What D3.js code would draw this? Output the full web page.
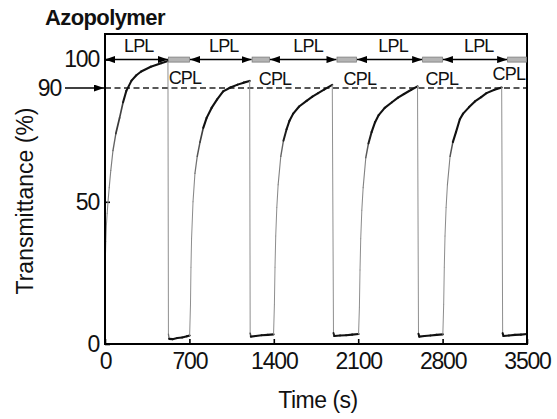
<!DOCTYPE html>
<html><head><meta charset="utf-8">
<script src="https://cdn.jsdelivr.net/npm/d3@7"></script>
<style>
html,body{margin:0;padding:0;background:#fff;}
svg{display:block;font-family:"Liberation Sans",Arial,sans-serif;}
</style></head><body>
<svg id="chart" width="557" height="419"></svg>
<script>
// Transmittance trace under alternating LPL / CPL illumination
const timeS = [
  0,3,7,12,18,25,35,48,66,90,121,150,177,220,260,300,380,465,522,
  526,532,560,600,640,680,702,
  709,713,718,730,746,765,788,815,843,884,930,980,1040,1100,1150,1200,
  1204,1210,1250,1300,1350,1398,
  1405,1410,1416,1425,1436,1458,1480,1506,1530,1561,1610,1672,1720,1768,1820,1885,
  1895,1902,1950,2000,2050,2103,
  2110,2115,2121,2130,2141,2163,2185,2211,2240,2270,2320,2380,2430,2480,2540,2592,
  2600,2607,2650,2700,2750,2802,
  2809,2814,2820,2829,2840,2862,2885,2911,2943,2970,3020,3068,3120,3164,3230,3290,
  3298,3305,3350,3400,3450,3500
];
const transmittance = [
  25,30,36,42,46,50,55,61,68,74,79.5,85,89,92.6,94.5,95.8,97.5,98.7,99.5,
  3.5,1.8,1.7,2.1,2.3,2.7,3.0,
  14,27,37,50,60,66,71,76,79.5,83,86,88.8,90.2,91.2,91.9,92.5,
  3.8,2.6,2.8,3.1,3.2,3.4,
  14,27,38,48,56,66,71.5,75.5,78.5,81,83.5,85.5,87,88.2,89.5,91.1,
  3.9,2.8,3.0,3.1,3.3,3.5,
  13,26,37,47,55,65.5,70.5,74.5,78,80.5,83,85,86.6,87.9,89.4,90.6,
  3.6,2.6,2.8,3.0,3.2,3.4,
  14,27,38,48,56,66,71,74.5,79,81,83.3,85.3,86.8,88.2,89.4,90.2,
  3.8,2.8,3.0,3.2,3.3,3.5
];
const xTicks = [0, 700, 1400, 2100, 2800, 3500];
const yTicks = [0, 50, 100];
const refLevel = 90;
const cplStart = [522, 1216, 1920, 2630, 3335];
const cplEnd   = [705, 1368, 2090, 2803, 3500];
const lplLabelTimes = [280, 985, 1685, 2390, 3100];
const cplLabelTimes = [663, 1410, 2114, 2794, 3350];
const cplLabelLevels = [91.5, 91.0, 91.0, 91.0, 92.8];

const svg = d3.select('#chart');
const x = d3.scaleLinear().domain([0, 3500]).range([105, 527]);
const y = d3.scaleLinear().domain([0, 109]).range([344, 34]);

// arrowhead marker
const defs = svg.append('defs');
defs.append('marker')
  .attr('id', 'head').attr('viewBox', '0 0 10 7')
  .attr('refX', 10).attr('refY', 3.5)
  .attr('markerWidth', 10).attr('markerHeight', 7)
  .attr('markerUnits', 'userSpaceOnUse')
  .attr('orient', 'auto-start-reverse')
  .append('path').attr('d', 'M0,0L10,3.5L0,7Z').attr('fill', '#000');

// axes with inward ticks
const xAxis = svg.append('g').attr('transform', `translate(0,${y(0)})`)
  .call(d3.axisBottom(x).tickValues(xTicks).tickFormat(d3.format('d'))
    .tickSizeInner(-5).tickSizeOuter(0).tickPadding(9));
const yAxis = svg.append('g').attr('transform', `translate(${x(0)},0)`)
  .call(d3.axisLeft(y).tickValues(yTicks).tickFormat(d3.format('d'))
    .tickSizeInner(-5).tickSizeOuter(0).tickPadding(6));
[xAxis, yAxis].forEach(g => {
  g.select('.domain').remove();
  g.attr('font-family', null).attr('font-size', null);
  g.selectAll('line').attr('stroke', '#000').attr('stroke-width', 1.6);
  g.selectAll('text').attr('font-size', 23).attr('letter-spacing', -1.2).attr('fill', '#111');
});

// reference level: dashed line and pointer arrow
svg.append('line')
  .attr('x1', x(0)).attr('x2', x(3500)).attr('y1', y(refLevel)).attr('y2', y(refLevel))
  .attr('stroke', '#222').attr('stroke-width', 1.6).attr('stroke-dasharray', '6,3.5');
svg.append('line')
  .attr('x1', x(0) - 40).attr('x2', x(0) - 1).attr('y1', y(refLevel)).attr('y2', y(refLevel))
  .attr('stroke', '#000').attr('stroke-width', 1.6).attr('marker-end', 'url(#head)');
svg.append('text').attr('x', x(0) - 44).attr('y', y(refLevel)).attr('dy', '0.34em')
  .attr('text-anchor', 'end').attr('font-size', 23).attr('letter-spacing', -1.2)
  .attr('fill', '#111').text(refLevel);

// trace: segments shaded by steepness
const pts = timeS.map((t, i) => [x(t), y(transmittance[i])]);
const ink = d3.interpolateRgb('#8f8f8f', '#111');
const gTrace = svg.append('g').attr('stroke-linecap', 'round');
for (let i = 1; i < pts.length; i++) {
  const [x0, y0] = pts[i - 1], [x1, y1] = pts[i];
  const s = Math.abs(y1 - y0) / Math.hypot(x1 - x0, y1 - y0);
  const k = Math.max(0, Math.min(1, (1 - s) / 0.04));
  gTrace.append('line')
    .attr('x1', x0).attr('y1', y0).attr('x2', x1).attr('y2', y1)
    .attr('stroke', ink(k)).attr('stroke-width', 1 + 1.1 * k);
}

// plot frame
svg.append('rect')
  .attr('x', x(0)).attr('y', y(109)).attr('width', x(3500) - x(0)).attr('height', y(0) - y(109))
  .attr('fill', 'none').attr('stroke', '#000').attr('stroke-width', 2);

// illumination sequence along the 100 % level
const gSeq = svg.append('g');
cplStart.forEach((s, i) => {
  const from = i === 0 ? 0 : cplEnd[i - 1];
  gSeq.append('line')
    .attr('x1', x(from)).attr('x2', x(s)).attr('y1', y(100)).attr('y2', y(100))
    .attr('stroke', '#000').attr('stroke-width', 1.5)
    .attr('marker-start', 'url(#head)').attr('marker-end', 'url(#head)');
  gSeq.append('rect')
    .attr('x', x(s) + 0.5).attr('y', y(100) - 2.5)
    .attr('width', x(cplEnd[i]) - x(s) - 1).attr('height', 5)
    .attr('fill', '#b4b4b4').attr('stroke', '#7c7c7c').attr('stroke-width', 0.8);
});
gSeq.selectAll('text.lpl').data(lplLabelTimes).join('text').attr('class', 'lpl')
  .attr('x', d => x(d)).attr('y', y(102.7)).attr('text-anchor', 'middle')
  .attr('font-size', 18).attr('letter-spacing', -0.8).attr('fill', '#111').text('LPL');
gSeq.selectAll('text.cpl').data(cplLabelTimes).join('text').attr('class', 'cpl')
  .attr('x', d => x(d)).attr('y', (d, i) => y(cplLabelLevels[i])).attr('text-anchor', 'middle')
  .attr('font-size', 18).attr('letter-spacing', -0.8).attr('fill', '#111').text('CPL');

// titles
svg.append('text').attr('x', 45).attr('y', 25)
  .attr('font-size', 22).attr('font-weight', 'bold').attr('letter-spacing', -0.6)
  .attr('fill', '#111').text('Azopolymer');
svg.append('text').attr('x', 318).attr('y', 408).attr('text-anchor', 'middle')
  .attr('font-size', 23).attr('letter-spacing', -0.5).attr('fill', '#111').text('Time (s)');
svg.append('text').attr('transform', 'translate(33,201) rotate(-90)').attr('text-anchor', 'middle')
  .attr('font-size', 23).attr('letter-spacing', 0).attr('fill', '#111').text('Transmittance (%)');
</script>
</body></html>
